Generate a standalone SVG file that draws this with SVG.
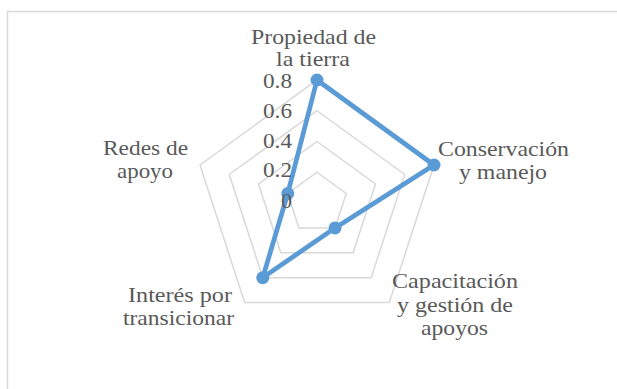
<svg xmlns="http://www.w3.org/2000/svg" width="617" height="389" viewBox="0 0 617 389">
<style>
.grid{fill:none;stroke:#d9d9d9;stroke-width:1.5}
.series{fill:none;stroke:#5b9bd5;stroke-width:4.75;stroke-linejoin:round}
.mk{fill:#5b9bd5}
text{font-family:"Liberation Serif","Times New Roman",serif;font-size:22px;fill:#595959}
.lbl{text-anchor:middle}
.tick{text-anchor:end}
</style>
<rect x="7.5" y="11.5" width="620" height="390" fill="#ffffff" stroke="#d9d9d9" stroke-width="1.5"/>
<g id="grid">
<polygon class="grid" points="317,172.25 346.25,193.5 335.07,227.88 298.93,227.88 287.75,193.5"/>
<polygon class="grid" points="317,141.5 375.49,184 353.15,252.75 280.85,252.75 258.51,184"/>
<polygon class="grid" points="317,110.75 404.74,174.49 371.22,277.63 262.78,277.63 229.26,174.49"/>
<polygon class="grid" points="317,80 433.99,165 389.3,302.51 244.7,302.51 200.01,165"/>
</g>
<g id="connectors">
<polygon class="series" points="317,80 433.99,165 335.07,227.88 262.78,277.63 287.75,193.5"/>
</g>
<g id="markers">
<circle class="mk" cx="317" cy="80" r="6.5"/>
<circle class="mk" cx="433.99" cy="165" r="6.5"/>
<circle class="mk" cx="335.07" cy="227.88" r="6.5"/>
<circle class="mk" cx="262.78" cy="277.63" r="6.5"/>
<circle class="mk" cx="287.75" cy="193.5" r="6.5"/>
</g>
<g id="ticks">
<text class="tick" x="292" y="88" textLength="29" lengthAdjust="spacingAndGlyphs">0.8</text>
<text class="tick" x="292" y="117.5" textLength="29" lengthAdjust="spacingAndGlyphs">0.6</text>
<text class="tick" x="292" y="147.5" textLength="29" lengthAdjust="spacingAndGlyphs">0.4</text>
<text class="tick" x="292" y="177" textLength="29" lengthAdjust="spacingAndGlyphs">0.2</text>
<text class="tick" x="292" y="207.5">0</text>
</g>
<g id="node-propiedad">
<text class="lbl" x="313.5" y="43.5" textLength="125" lengthAdjust="spacingAndGlyphs">Propiedad de</text>
<text class="lbl" x="313" y="66" textLength="74" lengthAdjust="spacingAndGlyphs">la tierra</text>
</g>
<g id="node-conservacion">
<text class="lbl" x="503.5" y="156" textLength="131" lengthAdjust="spacingAndGlyphs">Conservación</text>
<text class="lbl" x="503" y="179" textLength="88" lengthAdjust="spacingAndGlyphs">y manejo</text>
</g>
<g id="node-capacitacion">
<text class="lbl" x="455" y="288" textLength="126" lengthAdjust="spacingAndGlyphs">Capacitación</text>
<text class="lbl" x="455" y="311.5" textLength="116" lengthAdjust="spacingAndGlyphs">y gestión de</text>
<text class="lbl" x="454.5" y="335" textLength="67" lengthAdjust="spacingAndGlyphs">apoyos</text>
</g>
<g id="node-interes">
<text class="lbl" x="180" y="302" textLength="104" lengthAdjust="spacingAndGlyphs">Interés por</text>
<text class="lbl" x="178.5" y="325" textLength="111" lengthAdjust="spacingAndGlyphs">transicionar</text>
</g>
<g id="node-redes">
<text class="lbl" x="145.5" y="155" textLength="85" lengthAdjust="spacingAndGlyphs">Redes de</text>
<text class="lbl" x="145" y="178" textLength="56" lengthAdjust="spacingAndGlyphs">apoyo</text>
</g>
</svg>
